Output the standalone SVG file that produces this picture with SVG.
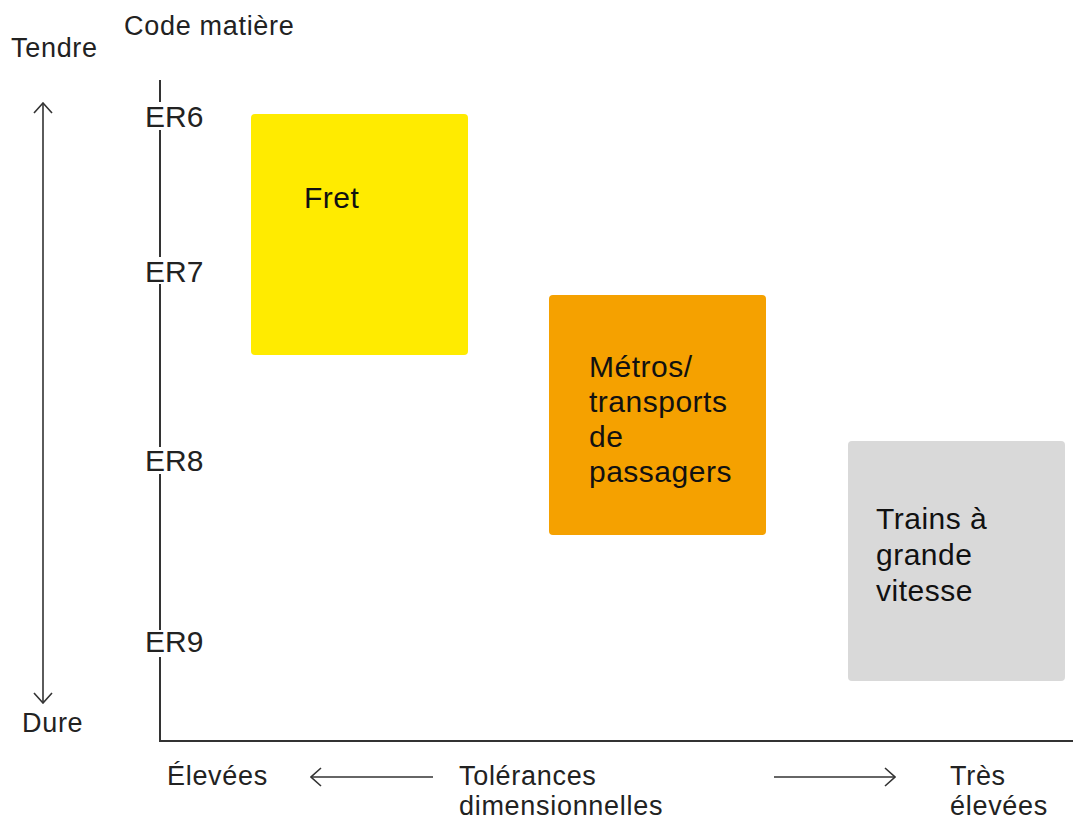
<svg xmlns="http://www.w3.org/2000/svg" width="1073" height="819" viewBox="0 0 1073 819">
<style>
text{font-family:"Liberation Sans",Arial,sans-serif;fill:#222}
.s{font-size:27px;letter-spacing:0.7px}
.er{font-size:30px}
.b{font-size:30px;fill:#111;letter-spacing:0.5px}
.ax{stroke:#333;stroke-width:2;fill:none}
.ar{stroke:#333;stroke-width:1.6;fill:none}
</style>
<defs>
<marker id="chev" viewBox="0 0 12 20" refX="11" refY="10" markerWidth="12" markerHeight="20" markerUnits="userSpaceOnUse" orient="auto-start-reverse">
<path d="M1,1 L11,10 L1,19" fill="none" stroke="#333" stroke-width="1.6"/>
</marker>
</defs>
<rect width="1073" height="819" fill="#fff"/>
<g id="axes">
<path class="ax" d="M160,80V102M160,130V257M160,284V447M160,474V630M160,657V741H1073"/>
</g>
<g id="labels">
<text class="s" x="124" y="35">Code matière</text>
<text class="s" x="11" y="57">Tendre</text>
<text class="s" x="22" y="732">Dure</text>
<text class="er" x="145" y="127">ER6</text>
<text class="er" x="145" y="282">ER7</text>
<text class="er" x="145" y="471">ER8</text>
<text class="er" x="145" y="652">ER9</text>
<text class="s" x="167" y="785">Élevées</text>
<text class="s" x="459" y="785">Tolérances</text>
<text class="s" x="459" y="815">dimensionnelles</text>
<text class="s" x="950" y="785">Très</text>
<text class="s" x="950" y="815">élevées</text>
</g>
<g id="fret">
<rect x="251" y="114" width="217" height="241" rx="4" fill="#FFEB00"/>
<text class="b" x="304" y="208">Fret</text>
</g>
<g id="metros">
<rect x="549" y="295" width="217" height="240" rx="4" fill="#F5A100"/>
<text class="b" x="589" y="377">Métros/</text>
<text class="b" x="589" y="412">transports</text>
<text class="b" x="589" y="447">de</text>
<text class="b" x="589" y="482">passagers</text>
</g>
<g id="tgv">
<rect x="848" y="441" width="217" height="240" rx="4" fill="#D9D9D9"/>
<text class="b" x="876" y="529">Trains à</text>
<text class="b" x="876" y="565">grande</text>
<text class="b" x="876" y="601">vitesse</text>
</g>
<g id="connectors">
<line class="ar" x1="43" y1="103" x2="43" y2="703" marker-start="url(#chev)" marker-end="url(#chev)"/>
<line class="ar" x1="311" y1="777" x2="433" y2="777" marker-start="url(#chev)"/>
<line class="ar" x1="774" y1="777" x2="895" y2="777" marker-end="url(#chev)"/>
</g>
</svg>
